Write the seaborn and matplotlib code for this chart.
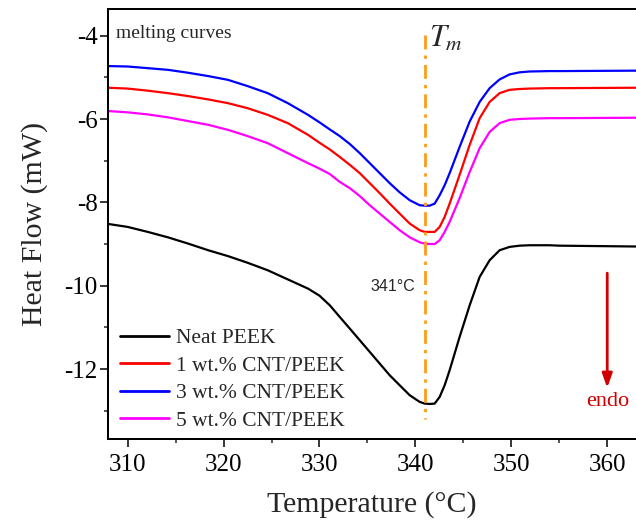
import numpy as np
import pandas as pd
import matplotlib
matplotlib.use("Agg")
import matplotlib.pyplot as plt
from matplotlib.ticker import MultipleLocator
import seaborn as sns

# ---- data ----
temperature = [308.0, 310.0, 312.1, 314.2, 316.3, 318.4, 320.45, 322.5, 324.6, 326.7, 328.8,
               330.0, 331.07, 332.11, 333.16, 334.2, 335.24, 336.28, 337.32, 338.36, 339.41,
               340.45, 340.97, 341.49, 342.01, 342.53, 343.05, 343.57, 344.61, 345.66, 346.7,
               347.74, 348.78, 349.82, 350.86, 351.9, 353.98, 355.0, 363.0]

v_neat = [-8.52, -8.59, -8.71, -8.84, -8.99, -9.15, -9.29, -9.45, -9.63, -9.85, -10.07,
          -10.24, -10.47, -10.75, -11.03, -11.31, -11.59, -11.87, -12.15, -12.39, -12.63,
          -12.79, -12.83, -12.84, -12.83, -12.67, -12.39, -12.03, -11.23, -10.47, -9.79,
          -9.39, -9.15, -9.07, -9.04, -9.03, -9.03, -9.04, -9.06]

v_cnt1 = [-5.25, -5.27, -5.32, -5.38, -5.45, -5.53, -5.62, -5.74, -5.90, -6.10, -6.38,
          -6.57, -6.73, -6.91, -7.10, -7.30, -7.54, -7.78, -8.03, -8.27, -8.51,
          -8.67, -8.71, -8.71, -8.71, -8.59, -8.35, -8.03, -7.34, -6.62, -5.98,
          -5.59, -5.38, -5.30, -5.28, -5.27, -5.26, -5.26, -5.25]

v_cnt3 = [-4.73, -4.74, -4.78, -4.82, -4.89, -4.97, -5.06, -5.21, -5.38, -5.62, -5.90,
          -6.08, -6.25, -6.41, -6.60, -6.82, -7.06, -7.30, -7.54, -7.76, -7.95,
          -8.07, -8.08, -8.08, -8.03, -7.83, -7.59, -7.30, -6.67, -6.06, -5.59,
          -5.26, -5.05, -4.93, -4.88, -4.86, -4.85, -4.85, -4.84]

v_cnt5 = [-5.81, -5.84, -5.89, -5.96, -6.05, -6.14, -6.26, -6.41, -6.58, -6.82, -7.06,
          -7.19, -7.32, -7.51, -7.66, -7.85, -8.07, -8.27, -8.47, -8.67, -8.84,
          -8.96, -8.99, -9.00, -9.00, -8.91, -8.71, -8.47, -7.90, -7.27, -6.70,
          -6.31, -6.10, -6.02, -6.00, -5.99, -5.98, -5.98, -5.97]

labels = ["Neat PEEK", "1 wt.% CNT/PEEK", "3 wt.% CNT/PEEK", "5 wt.% CNT/PEEK"]
colors = ["#000000", "#ff0000", "#0000ff", "#ff00ff"]
tm_value = 341.0

frames = []
for lab, v in zip(labels, [v_neat, v_cnt1, v_cnt3, v_cnt5]):
    frames.append(pd.DataFrame({"T": temperature, "HF": v, "sample": lab}))
df = pd.concat(frames, ignore_index=True)

# ---- style ----
sns.set_theme(style="ticks")
plt.rcParams["font.family"] = ["Liberation Serif", "DejaVu Serif"]
plt.rcParams["mathtext.fontset"] = "stix"
plt.rcParams["axes.unicode_minus"] = False

fig = plt.figure(figsize=(6.36, 5.26), dpi=100)
ax = fig.add_axes([108 / 636, 87 / 526, 528 / 636, 430 / 526])

sns.lineplot(data=df, x="T", y="HF", hue="sample", hue_order=labels,
             palette=dict(zip(labels, colors)), linewidth=1.6, ax=ax,
             sort=False, estimator=None)

ax.set_xlim(307.95, 363.0)
ax.set_ylim(-13.68, -3.36)

ax.xaxis.set_major_locator(MultipleLocator(10))
ax.xaxis.set_minor_locator(MultipleLocator(5))
ax.yaxis.set_major_locator(MultipleLocator(2))
ax.yaxis.set_minor_locator(MultipleLocator(1))
ax.tick_params(which="major", direction="out", length=5.8, width=1.1, labelsize=18,
               colors="black")
ax.tick_params(axis="x", which="major", pad=5)
ax.tick_params(axis="y", which="major", pad=1.5)
ax.tick_params(which="minor", direction="out", length=3, width=1.1)
ax.tick_params(right=False, top=False, which="both")

for s in ["left", "bottom", "top"]:
    ax.spines[s].set_visible(True)
    ax.spines[s].set_linewidth(1.45)
    ax.spines[s].set_color("black")
ax.spines["right"].set_visible(False)

ax.set_xlabel("Temperature (°C)", fontsize=21.5, labelpad=11)
ax.set_ylabel("Heat Flow (mW)", fontsize=21.5, labelpad=12)

# Tm line
ax.plot([tm_value, tm_value], [-3.98, -13.2], color="#ff9a1a", lw=2,
        linestyle=(0, (5, 2.2, 1.2, 2.2)))
ax.text(341.45, -4.27, r"$T_{m}$", fontsize=22, va="baseline", ha="left")
ax.text(339.95, -10.03, "341°C", fontsize=11.5, family=["Liberation Sans", "DejaVu Sans"],
        ha="right", va="center")
ax.text(308.8, -3.96, "melting curves", fontsize=14, ha="left", va="center")

# endo arrow
ax.annotate("", xy=(360.0, -12.45), xytext=(360.0, -9.70),
            arrowprops=dict(arrowstyle="-|>,head_length=0.7,head_width=0.25",
                            color="#d00000", lw=2, shrinkA=0, shrinkB=0))
ax.text(360.03, -12.78, "endo", fontsize=16, color="#d00000", ha="center", va="center")

leg = ax.legend(loc="upper left", bbox_to_anchor=(0.0227, 0.258), frameon=False,
                fontsize=15.5, handlelength=2.3, handletextpad=0.3, labelspacing=0.35,
                borderpad=0, borderaxespad=0)
for line in leg.get_lines():
    line.set_linewidth(2)

fig.savefig("out.png", dpi=100)
